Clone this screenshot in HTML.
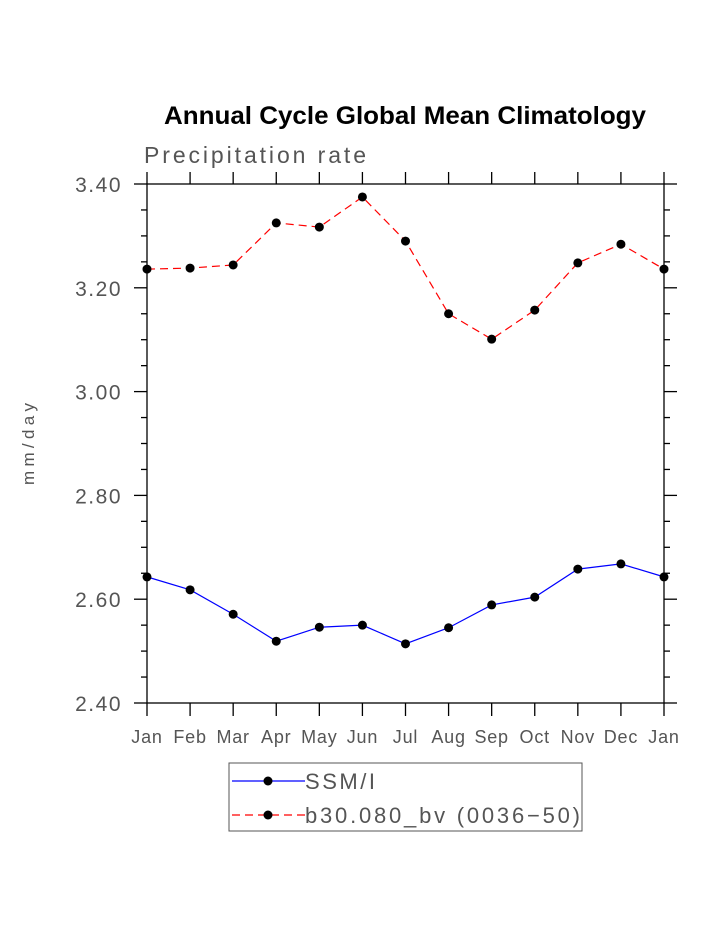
<!DOCTYPE html>
<html><head><meta charset="utf-8"><style>
html,body{margin:0;padding:0;background:#fff;}
svg{display:block;font-family:"Liberation Sans",sans-serif;}
</style></head><body>
<svg id="chart" width="723" height="935">
<text x="405" y="124" text-anchor="middle" font-size="25" font-weight="bold" textLength="482" lengthAdjust="spacingAndGlyphs">Annual Cycle Global Mean Climatology</text>
<text x="144" y="163" font-size="23" fill="#555" textLength="222" lengthAdjust="spacing">Precipitation rate</text>
<text x="0" y="0" transform="translate(34,444) rotate(-90)" text-anchor="middle" font-size="17" fill="#555" textLength="82" lengthAdjust="spacing">mm/day</text>
<rect x="147" y="184" width="517" height="519" fill="none" stroke="#000" stroke-width="1.3"/>
<g id="axes"></g>
<g id="series"></g>
<g>
<rect x="229" y="763" width="353" height="68" fill="#fff" stroke="#555"/>
<g>
<line x1="232" y1="781" x2="305" y2="781" stroke="#00f" stroke-width="1.2"/>
<circle cx="268" cy="781" r="4.5" fill="#000"/>
<text x="305" y="789" font-size="22" fill="#555" textLength="70" lengthAdjust="spacing">SSM/I</text>
</g>
<g>
<line x1="232" y1="815" x2="305" y2="815" stroke="#f00" stroke-width="1.2" stroke-dasharray="8,5"/>
<circle cx="268" cy="815" r="4.5" fill="#000"/>
<text x="305" y="823" font-size="22" fill="#555" textLength="275" lengthAdjust="spacing">b30.080_bv (0036−50)</text>
</g>
</g>
</svg>
<script>
const months = ["Jan","Feb","Mar","Apr","May","Jun","Jul","Aug","Sep","Oct","Nov","Dec","Jan"];
const ssmi = [2.643,2.618,2.571,2.519,2.546,2.550,2.514,2.545,2.589,2.604,2.658,2.668,2.643];
const b30 = [3.236,3.238,3.244,3.325,3.317,3.375,3.290,3.150,3.101,3.157,3.248,3.284,3.236];
const yTicks = [2.40,2.60,2.80,3.00,3.20,3.40];
const yTickLabels = ["2.40","2.60","2.80","3.00","3.20","3.40"];

const NS="http://www.w3.org/2000/svg";
const x0=147,x1=664,yTop=184,yBot=703,yMin=2.4,yMax=3.4;
function xs(i){return x0+(x1-x0)*i/(months.length-1);}
function ys(v){return yBot-(v-yMin)/(yMax-yMin)*(yBot-yTop);}
function mk(tag,attrs,parent){const e=document.createElementNS(NS,tag);for(const k in attrs)e.setAttribute(k,attrs[k]);parent.appendChild(e);return e;}
const axes=document.getElementById('axes');
months.forEach((m,i)=>{
  const x=xs(i);
  const t1=mk('line',{x1:x,y1:yTop,x2:x,y2:yTop-12,stroke:'#000','stroke-width':1.3},axes);
  
  
  const t2=mk('line',{x1:x,y1:yBot,x2:x,y2:yBot+13,stroke:'#000','stroke-width':1.3},axes);
  
  
  const lb=mk('text',{x:x,y:743,'text-anchor':'middle','font-size':18,fill:'#555','letter-spacing':0.8},axes);
  lb.textContent=m;
  
  
});
for(let v=yMin;v<=yMax+1e-9;v+=0.05){
  const y=ys(v);
  const major=Math.abs(Math.round(v*5)-v*5)<1e-6;
  const len=major?13:6;
  const a=mk('line',{x1:x0,y1:y,x2:x0-len,y2:y,stroke:'#000','stroke-width':1.3},axes);
  
  
  const b=mk('line',{x1:x1,y1:y,x2:x1+len,y2:y,stroke:'#000','stroke-width':1.3},axes);
  
  
}
yTicks.forEach((v,i)=>{
  const t=mk('text',{x:122,y:ys(v)+8,'text-anchor':'end','font-size':21,fill:'#555','letter-spacing':1.5},axes);
  t.textContent=yTickLabels[i];
  
  
});
const series=document.getElementById('series');
function draw(vals,color,dash,name){
  const p=mk('polyline',{points:vals.map((v,i)=>xs(i)+','+ys(v)).join(' '),fill:'none',stroke:color,'stroke-width':1.2,'stroke-dasharray':dash},series);
  
  
  vals.forEach((v,i)=>{
    const c=mk('circle',{cx:xs(i),cy:ys(v),r:4.5,fill:'#000'},series);
    
    
  });
}
draw(b30,'#f00','8,5','b30');
draw(ssmi,'#00f','none','ssmi');
</script>
</body></html>
